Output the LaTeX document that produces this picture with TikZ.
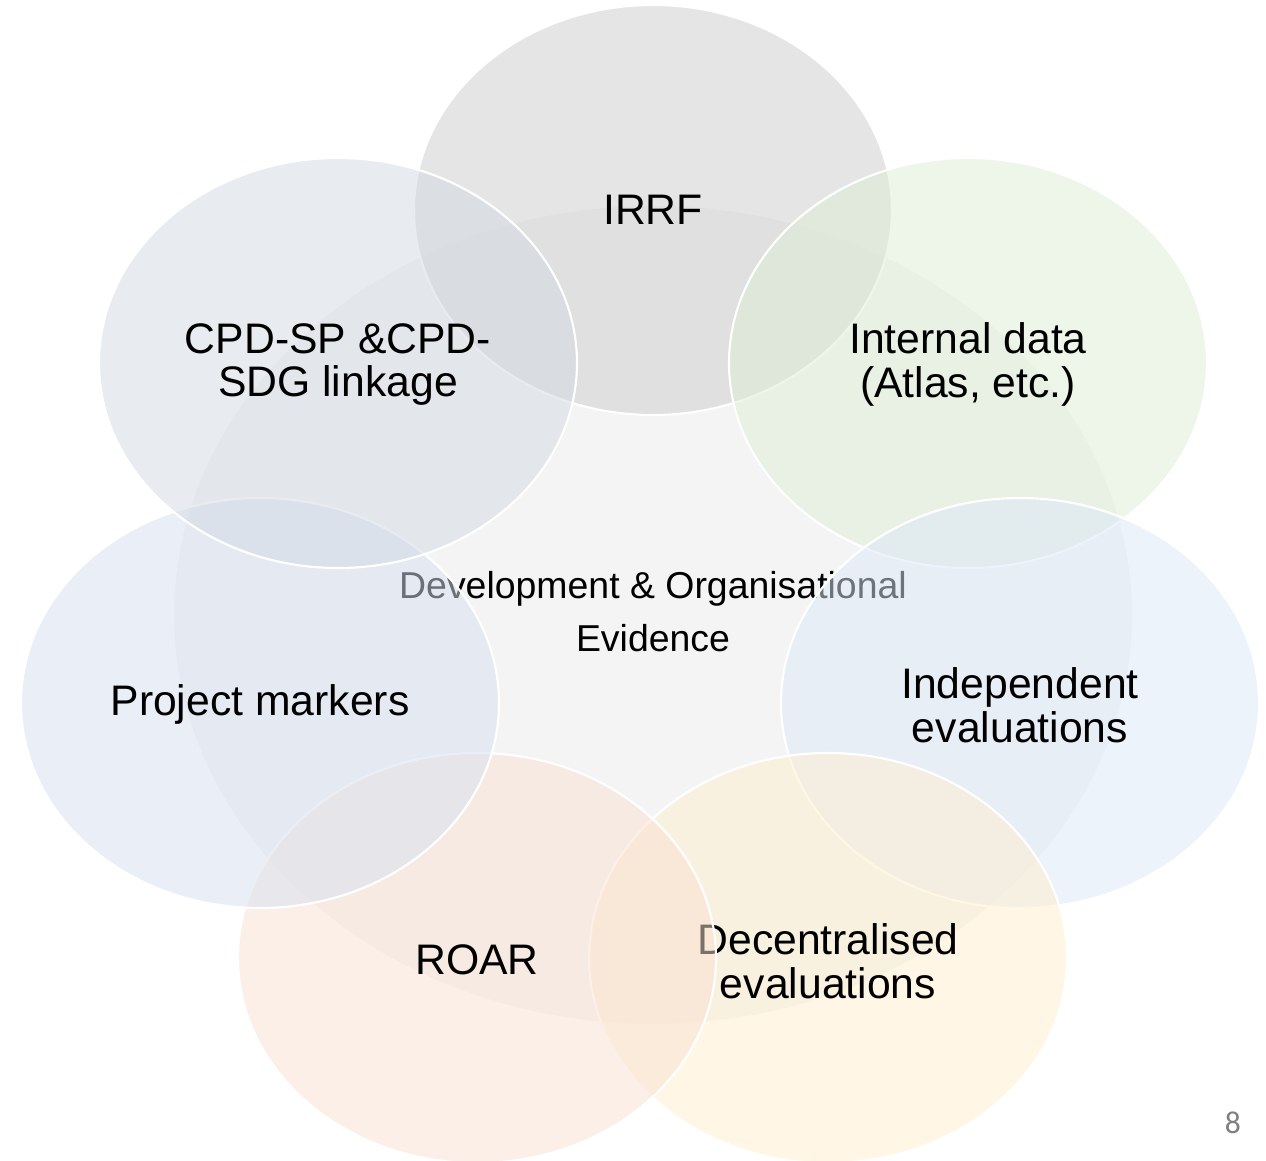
\documentclass[tikz,border=0pt]{standalone}
\usepackage{fontspec}
\setmainfont{Liberation Sans}
\newfontfamily\pagefont{Carlito}
\usepackage{tikz}

\definecolor{hubgray}{RGB}{235,235,235}
\definecolor{irrfgray}{RGB}{205,205,205}
\definecolor{datagreen}{RGB}{223,237,213}
\definecolor{indepblue}{RGB}{221,233,249}
\definecolor{decyellow}{RGB}{255,239,205}
\definecolor{roarpeach}{RGB}{249,225,209}
\definecolor{markblue}{RGB}{215,225,241}
\definecolor{cpdslate}{RGB}{211,217,227}

\begin{document}
\begin{tikzpicture}[scale=0.1]
\tikzstyle{every node}+=[inner sep=0pt, align=center, font=\fontsize{12.15}{12.4}\selectfont]
\tikzstyle{petal}=[draw=white, line width=0.6pt, fill opacity=0.5]
\useasboundingbox (0,0) rectangle (126.6,-116.1);
\fill [white] (0,0) rectangle (126.6,-116.1);
% hub
\draw [petal, fill=hubgray] (65.3,-61.5) ellipse (48 and 41);
\draw (65.3,-61.2) node [font=\fontsize{10.65}{15.1}\selectfont] (hub) {Development \& Organisational\\Evidence};
% petals, clockwise from the top
\draw [petal, fill=irrfgray] (65.3,-21) ellipse (23.9 and 20.5);
\draw (65.3,-21) node (irrf) {IRRF};
\draw [petal, fill=datagreen] (96.8,-36.3) ellipse (23.9 and 20.5);
\draw (96.8,-36.45) node (internal) {Internal data\\(Atlas, etc.)};
\draw [petal, fill=indepblue] (102,-70.3) ellipse (23.9 and 20.5);
\draw (102,-70.5) node (independent) {Independent\\evaluations};
\draw [petal, fill=decyellow] (82.8,-95.8) ellipse (23.9 and 20.5);
\draw (82.8,-96.1) node (decentral) {Decentralised\\evaluations};
\draw [petal, fill=roarpeach] (47.7,-95.8) ellipse (23.9 and 20.5);
\draw (47.7,-96) node (roar) {ROAR};
\draw [petal, fill=markblue] (26,-70.3) ellipse (23.9 and 20.5);
\draw (26,-70.4) node (markers) {Project markers};
\draw [petal, fill=cpdslate] (33.8,-36.3) ellipse (23.9 and 20.5);
\draw (33.8,-36.45) node (cpd) {CPD-SP \&CPD-\\SDG linkage};
% slide number
\draw (123.3,-112.3) node (pagenum) {\pagefont\fontsize{9}{9}\selectfont\color[RGB]{128,128,128}8};
\end{tikzpicture}
\end{document}
